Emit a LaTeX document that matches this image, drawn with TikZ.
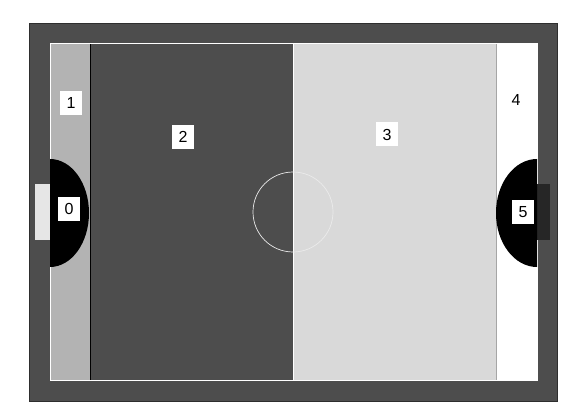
\documentclass[tikz,border=0pt]{standalone}
\usepackage{fontspec}
\setmainfont{Liberation Sans}
\definecolor{outerc}{HTML}{4D4D4D}
\definecolor{edgec}{HTML}{2E2E2E}
\definecolor{zoneA}{HTML}{B3B3B3}
\definecolor{zoneB}{HTML}{4D4D4D}
\definecolor{zoneC}{HTML}{D9D9D9}
\definecolor{goalL}{HTML}{E6E6E6}
\definecolor{goalR}{HTML}{262626}
\tikzset{
  lab/.style={fill=white, inner sep=0pt, minimum width=22pt, minimum height=24pt, font=\fontsize{16}{16}\selectfont},
}
\begin{document}
\begin{tikzpicture}[x=1pt,y=-1pt]
\useasboundingbox (0,0) rectangle (584,417);
\fill[white] (0,0) rectangle (584,417);
% outer
\fill[outerc, draw=edgec, line width=1pt] (29,24) rectangle (557,401);
% zones
\fill[zoneA] (50,44) rectangle (90,380);
\fill[zoneB] (90,44) rectangle (293,380);
\fill[zoneC] (293,44) rectangle (496,380);
\fill[white] (496,44) rectangle (537,380);
% separators
\draw[black, line width=0.8pt] (90,44) -- (90,380);
\draw[gray!70, line width=0.8pt] (496,44) -- (496,380);
\draw[white, line width=0.8pt] (293,44) -- (293,380);
\draw[white, line width=1pt] (50,44) rectangle (537,380);
% center circle
\node[circle, draw=white!92!black, line width=0.7pt, minimum size=80pt, inner sep=0pt] (cc) at (293,212) {};
% goals
\fill[goalL] (35,184) rectangle (50,240);
\fill[goalR] (537,184) rectangle (550,240);
% goal areas
\fill[black] (50,159) arc[start angle=-90, end angle=90, x radius=39, y radius=54] -- cycle;
\fill[black] (537,159) arc[start angle=270, end angle=90, x radius=41, y radius=54] -- cycle;
% labels
\node[lab] (l0) at (69,209) {0};
\node[lab] (l1) at (71,103) {1};
\node[lab] (l2) at (183,137) {2};
\node[lab] (l3) at (387,134.5) {3};
\node[lab] (l4) at (516,100) {4};
\node[lab] (l5) at (523,212) {5};
\end{tikzpicture}
\end{document}
